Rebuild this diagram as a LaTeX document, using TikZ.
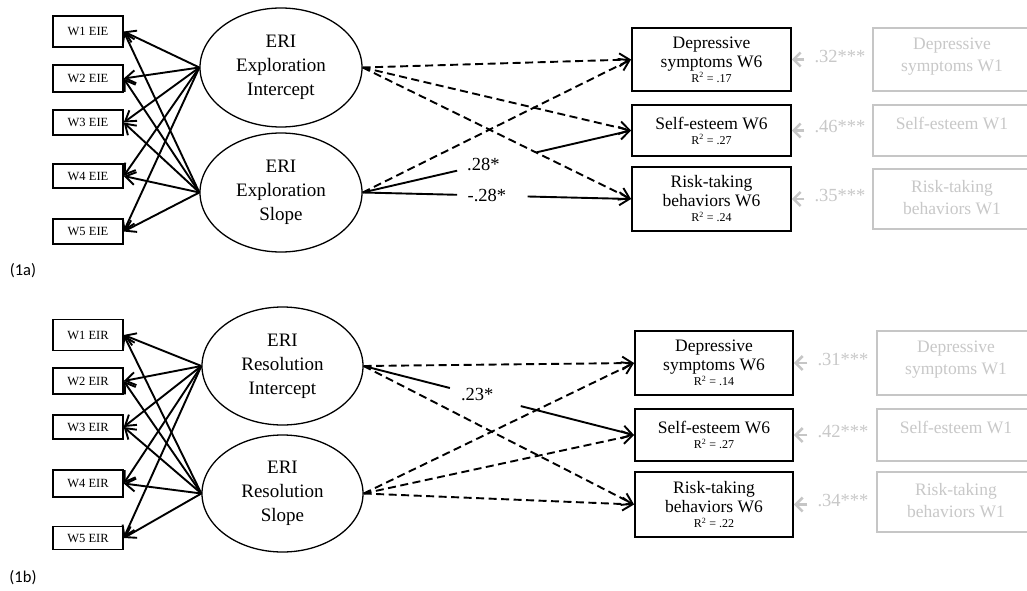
\documentclass[tikz,border=0pt]{standalone}
\usepackage{fontspec}
\setmainfont{Liberation Serif}
\newfontfamily\calib{Carlito}
\usetikzlibrary{arrows.meta,shapes.geometric,calc}
\definecolor{gline}{RGB}{198,198,198}
\definecolor{gtext}{RGB}{200,200,200}
\begin{document}
\begin{tikzpicture}[x=1pt,y=-1pt,
 obs/.style={draw, line width=1.4pt, minimum width=70pt, inner sep=0pt, font=\fontsize{12.5}{14}\selectfont},
 lat/.style={ellipse, draw, line width=1.3pt, minimum width=162pt, minimum height=119pt, inner sep=0pt, align=center, font=\fontsize{19}{24}\selectfont},
 outc/.style={draw, line width=1.9pt, minimum width=159pt, inner sep=0pt, align=center, font=\fontsize{17.5}{19}\selectfont},
 gbox/.style={draw=gline, line width=2.5pt, minimum width=190pt, inner sep=0pt},
 gtxt/.style={align=center, text=gtext, inner sep=0pt, font=\fontsize{17.5}{22}\selectfont},
 arr/.style={line width=1.9pt, -{Straight Barb[length=10pt,width=13pt]}},
 dsh/.style={arr, dash pattern=on 8pt off 4.5pt},
 seg/.style={line width=1.9pt},
 lbl/.style={font=\fontsize{18.5}{20}\selectfont, inner sep=1pt},
 glbl/.style={font=\fontsize{18.5}{20}\selectfont, text=gtext, inner sep=2pt},
 garr/.style={draw=gline, line width=2.5pt, -{Straight Barb[length=7pt,width=14pt]}, shorten <=8pt},
 paneltag/.style={font=\calib\fontsize{16.5}{18}\selectfont, inner sep=0pt}
]
\useasboundingbox[fill=white] (0,0) rectangle (1027,591);

% ---------------- Panel (1a) ----------------
\node[obs, minimum height=31pt] (a1) at (88,31.5) {W1 EIE};
\node[obs, minimum height=27pt] (a2) at (88,78.5) {W2 EIE};
\node[obs, minimum height=25pt] (a3) at (88,122.5) {W3 EIE};
\node[obs, minimum height=24pt] (a4) at (88,176) {W4 EIE};
\node[obs, minimum height=25pt] (a5) at (88,231.5) {W5 EIE};

\node[lat] (ai) at (281,67.5) {ERI\\Exploration\\Intercept};
\node[lat] (as) at (281,192.5) {ERI\\Exploration\\Slope};

\foreach \s in {ai,as}{
  \foreach \t in {a1,a2,a3,a4,a5}{
    \draw[arr] (\s.west) -- (\t.east);
  }
}

\node[outc, minimum height=63pt] (ad) at (711.5,59.5) {Depressive\\symptoms W6\\[-4pt]{\fontsize{12}{12}\selectfont R\textsuperscript{2} = .17}};
\node[outc, minimum height=51pt] (ae) at (711.5,130.5) {Self-esteem W6\\[-4pt]{\fontsize{12}{12}\selectfont R\textsuperscript{2} = .27}};
\node[outc, minimum height=64pt] (ar) at (711.5,199) {Risk-taking\\behaviors W6\\[-4pt]{\fontsize{12}{12}\selectfont R\textsuperscript{2} = .24}};

\node[gbox, minimum height=63pt] (agd) at (968,59.5) {};
\node[gbox, minimum height=51pt] (age) at (968,130.5) {};
\node[gbox, minimum height=60pt] (agr) at (968,199) {};
\node[gtxt] (tgd) at (952,57) {Depressive\\symptoms W1};
\node[gtxt] (tge) at (952,123) {Self-esteem W1};
\node[gtxt] (tgr) at (952,198) {Risk-taking\\behaviors W1};

\draw[dsh] (ai.east) -- (ad.west);
\draw[dsh] (ai.east) -- (ae.west);
\draw[dsh] (ai.east) -- (ar.west);
\draw[dsh] (as.east) -- (ad.west);
\draw[seg] (as.east) -- ($(as.east)!0.352!(ae.west)$);
\draw[arr] ($(as.east)!0.648!(ae.west)$) -- (ae.west);
\node[lbl] (la1) at ($(as.east)!0.45!(ae.west)$) {.28*};
\draw[seg] (as.east) -- ($(as.east)!0.352!(ar.west)$);
\draw[arr] ($(as.east)!0.615!(ar.west)$) -- (ar.west);
\node[lbl] (la2) at ($(as.east)!0.463!(ar.west)$) {-.28*};

\node[glbl] (ga1) at (840,57) {.32***};
\node[glbl] (ga2) at (840,127) {.46***};
\node[glbl] (ga3) at (840,196) {.35***};
\draw[garr] (ga1.west |- ad.east) -- (ad.east);
\draw[garr] (ga2.west |- ae.east) -- (ae.east);
\draw[garr] (ga3.west |- ar.east) -- (ar.east);

\node[paneltag] (ta) at (23,271) {(1a)};

% ---------------- Panel (1b) ----------------
\node[obs, minimum height=31pt] (b1) at (88,335) {W1 EIR};
\node[obs, minimum height=26pt] (b2) at (88,381) {W2 EIR};
\node[obs, minimum height=24pt] (b3) at (88,427) {W3 EIR};
\node[obs, minimum height=27pt] (b4) at (88,483.5) {W4 EIR};
\node[obs, minimum height=23pt] (b5) at (88,538) {W5 EIR};

\node[lat, minimum width=161pt, minimum height=118pt] (bi) at (282.5,366) {ERI\\Resolution\\Intercept};
\node[lat, minimum width=161pt, minimum height=117pt] (bs) at (282.5,493.5) {ERI\\Resolution\\Slope};

\foreach \s in {bi,bs}{
  \foreach \t in {b1,b2,b3,b4,b5}{
    \draw[arr] (\s.west) -- (\t.east);
  }
}

\node[outc, minimum width=158pt, minimum height=64pt] (bd) at (714,363) {Depressive\\symptoms W6\\[-4pt]{\fontsize{12}{12}\selectfont R\textsuperscript{2} = .14}};
\node[outc, minimum width=158pt, minimum height=52pt] (be) at (714,435) {Self-esteem W6\\[-4pt]{\fontsize{12}{12}\selectfont R\textsuperscript{2} = .27}};
\node[outc, minimum width=158pt, minimum height=65pt] (br) at (714,504.5) {Risk-taking\\behaviors W6\\[-4pt]{\fontsize{12}{12}\selectfont R\textsuperscript{2} = .22}};

\node[gbox, minimum height=64pt] (bgd) at (972,363) {};
\node[gbox, minimum height=52pt] (bge) at (972,435) {};
\node[gbox, minimum height=60pt] (bgr) at (972,502) {};
\node[gtxt] (tbd) at (956,360) {Depressive\\symptoms W1};
\node[gtxt] (tbe) at (956,427) {Self-esteem W1};
\node[gtxt] (tbr) at (956,501) {Risk-taking\\behaviors W1};

\draw[dsh] (bi.east) -- (bd.west);
\draw[seg] (bi.east) -- ($(bi.east)!0.319!(be.west)$);
\draw[arr] ($(bi.east)!0.581!(be.west)$) -- (be.west);
\node[lbl] (lb1) at ($(bi.east)!0.42!(be.west)$) {.23*};
\draw[dsh] (bi.east) -- (br.west);
\draw[dsh] (bs.east) -- (bd.west);
\draw[dsh] (bs.east) -- (be.west);
\draw[dsh] (bs.east) -- (br.west);

\node[glbl] (gb1) at (843,360) {.31***};
\node[glbl] (gb2) at (843,432) {.42***};
\node[glbl] (gb3) at (843,501) {.34***};
\draw[garr] (gb1.west |- bd.east) -- (bd.east);
\draw[garr] (gb2.west |- be.east) -- (be.east);
\draw[garr] (gb3.west |- br.east) -- (br.east);

\node[paneltag] (tb) at (23,578) {(1b)};
\end{tikzpicture}
\end{document}
